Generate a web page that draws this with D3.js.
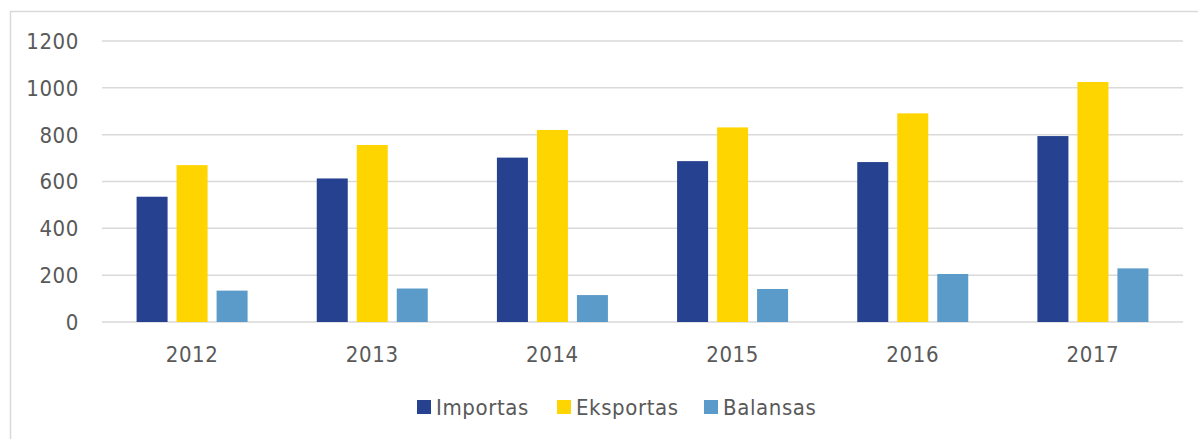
<!DOCTYPE html>
<html>
<head>
<meta charset="utf-8">
<script src="https://cdn.jsdelivr.net/npm/d3@7"></script>
<style>
  body { margin: 0; background: #fff; }
  svg text { font-family: "DejaVu Sans Condensed", "DejaVu Sans", Verdana, sans-serif; fill: #595959; font-size: 22px; letter-spacing: 0.6px; }
</style>
</head>
<body>
<svg id="chart"></svg>
<script>
var w = 1198;
var h = 439;

// data
var years = ["2012", "2013", "2014", "2015", "2016", "2017"];
var seriesNames = ["Importas", "Eksportas", "Balansas"];
var importas = [535, 613, 702, 687, 683, 794];
var eksportas = [670, 756, 820, 831, 891, 1025];
var balansas = [134, 143, 115, 141, 205, 229];
var yTicks = [0, 200, 400, 600, 800, 1000, 1200];
var colors = ["#264190", "#ffd500", "#5b9bc9"];

var rows = years.map((y, i) => ({ year: y, values: [importas[i], eksportas[i], balansas[i]] }));

var svg = d3.select("#chart")
    .attr("width", w)
    .attr("height", h);

// chart frame (only top and left edge show in the crop)
svg.append("path")
    .attr("d", "M10.5,439 V11.5 H1198")
    .style("fill", "none")
    .style("stroke", "#d9d9d9")
    .style("stroke-width", 1.5);

var groupW = 111;

var x0 = d3.scaleBand()
    .domain(years)
    .range([102, 1183]);

var x1 = d3.scaleBand()
    .domain(seriesNames)
    .range([0, groupW])
    .paddingInner(0.225);

var y = d3.scaleLinear()
    .domain([0, 1200])
    .range([322, 41]);

// gridlines
svg.append("g")
    .selectAll("line")
    .data(yTicks)
    .enter().append("line")
    .attr("x1", 102)
    .attr("x2", 1183)
    .attr("y1", d => y(d))
    .attr("y2", d => y(d))
    .style("stroke", "#d9d9d9")
    .style("stroke-width", 1.5);

// y labels
svg.append("g")
    .selectAll("text")
    .data(yTicks)
    .enter().append("text")
    .attr("x", 79)
    .attr("y", d => y(d))
    .attr("dy", "0.36em")
    .attr("text-anchor", "end")
    .text(d => d);

// bars
var groups = svg.append("g")
    .selectAll("g")
    .data(rows)
    .enter().append("g")
    .attr("transform", d => "translate(" + (x0(d.year) + (x0.bandwidth() - groupW) / 2) + ",0)");

groups.selectAll("rect")
    .data(d => d.values.map((v, i) => ({ name: seriesNames[i], value: v, i: i })))
    .enter().append("rect")
    .attr("x", d => x1(d.name))
    .attr("width", x1.bandwidth())
    .attr("y", d => y(d.value))
    .attr("height", d => y(0) - y(d.value))
    .style("fill", d => colors[d.i]);

// x labels
svg.append("g")
    .selectAll("text")
    .data(years)
    .enter().append("text")
    .attr("x", d => x0(d) + x0.bandwidth() / 2)
    .attr("y", 354)
    .attr("dy", "0.36em")
    .attr("text-anchor", "middle")
    .text(d => d);

// legend
var legendX = [417, 557, 704];
var legend = svg.append("g")
    .selectAll("g")
    .data(seriesNames)
    .enter().append("g")
    .attr("transform", (d, i) => "translate(" + legendX[i] + ",400)");

legend.append("rect")
    .attr("width", 14)
    .attr("height", 14)
    .style("fill", (d, i) => colors[i]);

legend.append("text")
    .attr("x", 19)
    .attr("y", 7)
    .attr("dy", "0.36em")
    .text(d => d);
</script>
</body>
</html>
